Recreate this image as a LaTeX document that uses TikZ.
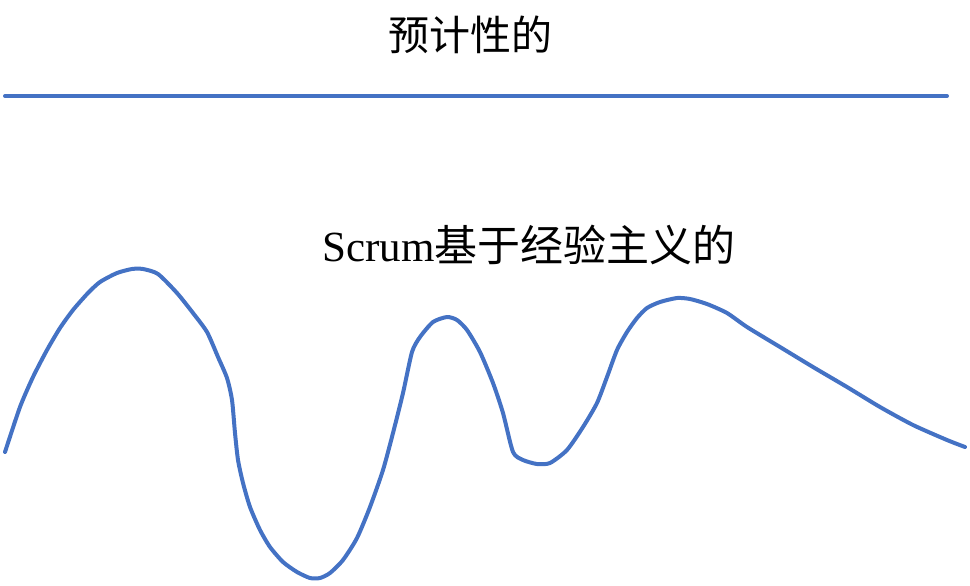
\documentclass[tikz,border=0pt]{standalone}
\usepackage{fontspec}
\setmainfont{Liberation Serif}
\newfontfamily\cjk{Noto Sans CJK SC}
\usepackage{tikz}
\definecolor{lineblue}{HTML}{4472C4}

\begin{document}
\begin{tikzpicture}[x=0.5pt,y=-0.5pt,
	every node/.style={font=\fontsize{20.5}{24}\selectfont, inner sep=0pt},
	trend/.style={lineblue, line width=2pt, line cap=round, line join=round}]
	\useasboundingbox (0,0) rectangle (970,585);

	\node (predictive) at (470,35) {\cjk 预计性的};
	\draw[trend] (5,96) -- (947,96);

	\node (empirical) [anchor=west, font=\fontsize{21.5}{25}\selectfont] at (322,245) {Scrum{\cjk 基于经验主义的}};
	\draw[trend] plot[smooth, tension=0.4] coordinates {
		(5,452) (20,407) (33,377) (47,350) (60,328) (73,310) (88,293) (100,282)
		(117,273) (132,269) (143,269) (158,274) (177,293) (193,313) (207,332)
		(218,357) (227,378) (232,400) (235,433) (238,460) (243,483) (250,507)
		(260,530) (270,547) (283,562) (297,572) (310,578) (320,578) (330,573)
		(343,560) (357,538) (370,507) (383,470) (393,433) (403,393) (412,352)
		(420,337) (433,322) (447,317) (457,320) (467,330) (480,352) (493,383)
		(503,413) (513,452) (523,460) (537,464) (550,463) (567,450) (583,427)
		(597,403) (607,377) (617,350) (627,332) (637,318) (647,308) (660,302)
		(677,298) (690,299) (707,304) (727,313) (747,327) (780,347) (813,367)
		(847,387) (880,407) (913,425) (947,440) (965,447)};
\end{tikzpicture}
\end{document}
